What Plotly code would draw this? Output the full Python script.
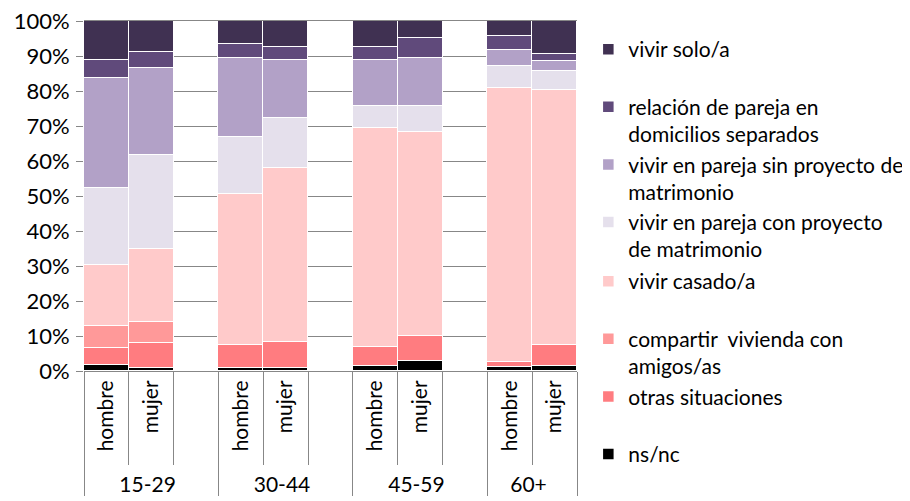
import plotly.graph_objects as go

groups = ["15-29", "30-44", "45-59", "60+"]
sexes = ["hombre", "mujer"]
y_ticks = [0, 10, 20, 30, 40, 50, 60, 70, 80, 90, 100]
y_labels = ["0%", "10%", "20%", "30%", "40%", "50%", "60%", "70%", "80%", "90%", "100%"]

# bottom -> top stacking order, values per bar (15-29 h, 15-29 m, 30-44 h, ...)
ns_nc = [1.7, 1.0, 1.0, 1.0, 1.5, 2.9, 1.2, 1.3]
otras = [4.9, 6.9, 6.5, 7.2, 5.3, 7.2, 1.4, 6.2]
compartir = [6.4, 6.0, 0, 0, 0, 0, 0, 0]
casado = [17.4, 21.0, 43.1, 49.8, 62.5, 58.3, 78.4, 72.9]
con_proyecto = [21.9, 26.7, 16.4, 14.2, 6.3, 7.2, 6.2, 5.3]
sin_proyecto = [31.5, 24.9, 22.5, 16.8, 13.4, 13.7, 4.4, 2.9]
separados = [5.2, 4.6, 4.0, 3.6, 3.6, 5.8, 4.0, 2.1]
solo = [11.0, 9.0, 6.5, 7.4, 7.4, 4.9, 4.4, 9.3]

# (legend text, values, colour, legend box, rank)
series = [
    ("ns/nc<br> ", ns_nc, "#000000", "legend2", 8),
    ("otras situaciones<br> ", otras, "#FF7C80", "legend2", 7),
    ("compartir\u00a0 vivienda con<br>amigos/as", compartir, "#FF9999", "legend2", 6),
    ("vivir casado/a<br> ", casado, "#FFCACA", "legend2", 5),
    ("vivir en pareja con proyecto<br>de matrimonio", con_proyecto, "#E5E0EC", "legend", 4),
    ("vivir en pareja sin proyecto de<br>matrimonio", sin_proyecto, "#B2A1C7", "legend", 3),
    ("relación de pareja en<br>domicilios separados", separados, "#604A7B", "legend", 2),
    ("vivir solo/a<br> ", solo, "#403152", "legend", 1),
]

# multicategory x with a blank slot after each group except the last
outer, inner, idx = [], [], []
k = 0
for gi, g in enumerate(groups):
    for s in sexes:
        outer.append(g)
        inner.append(s)
        idx.append(k)
        k += 1
    if gi < len(groups) - 1:
        outer.append(g)
        inner.append(" ")
        idx.append(None)

fig = go.Figure()
for name, vals, color, leg, rank in series:
    y = [vals[i] if i is not None else None for i in idx]
    fig.add_trace(go.Bar(
        x=[outer, inner], y=y, name=name, legend=leg, legendrank=rank,
        marker=dict(color=color, line=dict(color="white", width=1.5)),
    ))

legend_style = dict(
    xanchor="left", yanchor="top", traceorder="normal", valign="top",
    font=dict(size=21), bgcolor="rgba(0,0,0,0)",
)
# page body adds an 8px offset, so the figure is 8px smaller than the window
fig.update_layout(
    barmode="stack", bargap=0,
    width=902, height=493,
    margin=dict(l=76, r=333, t=13, b=130, autoexpand=False),
    plot_bgcolor="white", paper_bgcolor="white",
    font=dict(family="Lato", size=20, color="black"),
    legend=dict(x=1.023, y=0.977, **legend_style),
    legend2=dict(x=1.023, y=0.314, **legend_style),
)
fig.update_yaxes(
    range=[0, 100], tickvals=y_ticks, ticktext=y_labels, automargin=False,
    showgrid=True, gridcolor="#878787", gridwidth=1,
    ticks="outside", ticklen=7, tickcolor="#878787", ticklabelstandoff=2,
    ticklabeloverflow="allow",
    showline=False, zeroline=False, tickfont=dict(size=22),
)
fig.update_xaxes(
    automargin=False,
    showline=True, mirror=True, linecolor="#878787", linewidth=1,
    ticks="outside", tickson="boundaries", ticklen=93, tickcolor="#878787",
    tickangle=-90, tickfont=dict(size=21),
    showdividers=True, dividercolor="#878787", dividerwidth=1,
)

fig.write_html("out.html")
